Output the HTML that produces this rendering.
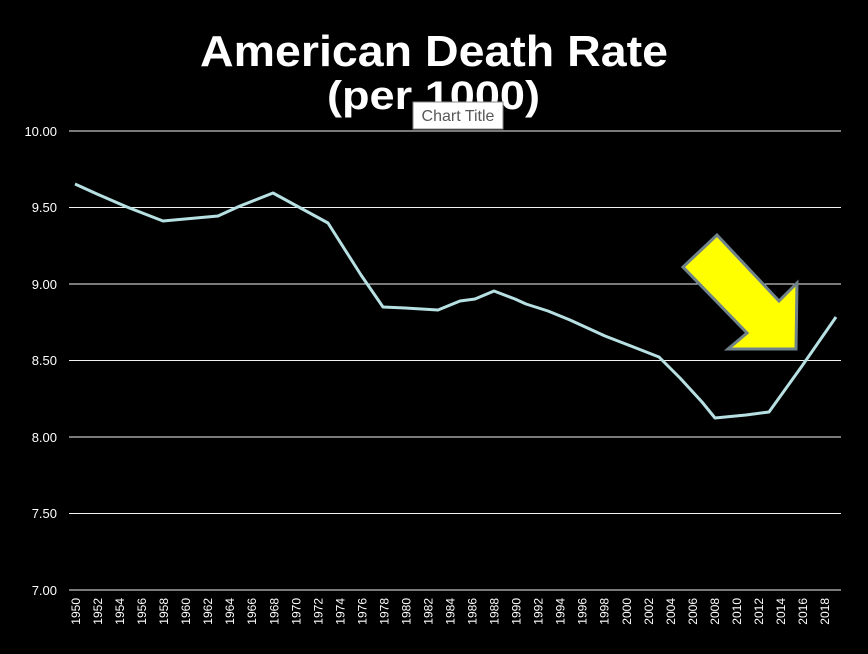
<!DOCTYPE html>
<html><head><style>
body{margin:0;background:#000;width:868px;height:654px;overflow:hidden}
</style></head><body>
<svg width="868" height="654" xmlns="http://www.w3.org/2000/svg" style="display:block">
<rect width="868" height="654" fill="#000"/>
<text x="200" y="66" textLength="468" lengthAdjust="spacingAndGlyphs" fill="#fff" font-family="Liberation Sans, sans-serif" font-weight="bold" font-size="44">American Death Rate</text>
<text x="327" y="109" textLength="213" lengthAdjust="spacingAndGlyphs" fill="#fff" font-family="Liberation Sans, sans-serif" font-weight="bold" font-size="40">(per 1000)</text>
<g stroke="#f2f2f2" stroke-width="1">
<line x1="69" x2="841" y1="131" y2="131"/><line x1="69" x2="841" y1="207.5" y2="207.5"/>
<line x1="69" x2="841" y1="284" y2="284"/><line x1="69" x2="841" y1="360.5" y2="360.5"/>
<line x1="69" x2="841" y1="437" y2="437"/><line x1="69" x2="841" y1="513.5" y2="513.5"/>
<line x1="69" x2="841" y1="590" y2="590"/>
</g>
<g fill="#fff" font-family="Liberation Sans, sans-serif" font-size="13" text-anchor="end">
<text x="57" y="136">10.00</text><text x="57" y="212">9.50</text><text x="57" y="289">9.00</text><text x="57" y="365">8.50</text><text x="57" y="442">8.00</text><text x="57" y="518">7.50</text><text x="57" y="595">7.00</text>
</g>
<g fill="#fff" font-family="Liberation Sans, sans-serif" font-size="12" text-anchor="end" id="xl">
</g>
<rect x="413" y="102" width="90" height="27" fill="#fff" stroke="#888"/>
<text x="458" y="121" text-anchor="middle" fill="#595959" font-family="Liberation Sans, sans-serif" font-size="16">Chart Title</text>
<polyline fill="none" stroke="#b7e0e3" stroke-width="3" stroke-linejoin="round" points="75,184 97,194 127,207 163,221 218,216 240,206 273,193 306,211 328,223 361,275 383,307 405,308 438,310 460,301 475,299 494,291 515,299 526,304 548,311 570,320 605,336 636,348 659,357 680,378 702,402 715,418 746,415 769,412 802,366 836,317"/>
<polygon points="717,235 779,301 797,283 796,349 728,349 747,333 683,267" fill="#ffff00" stroke="#70828a" stroke-width="3"/>
</svg>
<script>
var g=document.getElementById('xl'),s='';
for(var i=0;i<35;i++){var x=75+i*22.03+5,y=598;s+='<text transform="translate('+x+','+y+') rotate(-90)">'+(1950+2*i)+'</text>';}
g.innerHTML=s;
</script>
</body></html>
